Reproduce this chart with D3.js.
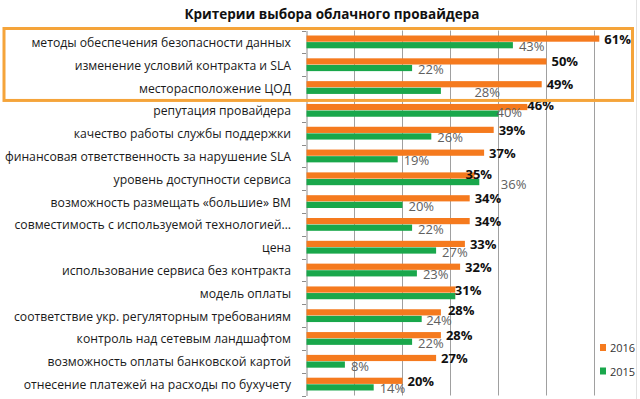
<!DOCTYPE html>
<html>
<head>
<meta charset="utf-8">
<script src="https://cdn.jsdelivr.net/npm/d3@7"></script>
<style>
  html, body { margin: 0; padding: 0; background: #fff; }
  svg { display: block; }
</style>
</head>
<body>
<svg id="chart" width="640" height="399"></svg>
<script>
const title = "Критерии выбора облачного провайдера";
const categories = [
  "методы обеспечения безопасности данных",
  "изменение условий контракта и SLA",
  "месторасположение ЦОД",
  "репутация провайдера",
  "качество работы службы поддержки",
  "финансовая ответственность за нарушение SLA",
  "уровень доступности сервиса",
  "возможность размещать «большие» ВМ",
  "совместимость с используемой технологией…",
  "цена",
  "использование сервиса без контракта",
  "модель оплаты",
  "соответствие укр. регуляторным требованиям",
  "контроль над сетевым ландшафтом",
  "возможность оплаты банковской картой",
  "отнесение платежей на расходы по бухучету"
];
const seriesNames = ["2016", "2015"];
const values2016 = [61, 50, 49, 46, 39, 37, 35, 34, 34, 33, 32, 31, 28, 28, 27, 20];
const values2015 = [43, 22, 28, 40, 26, 19, 36, 20, 22, 27, 23, 31, 24, 22, 8, 14];
const hiddenLabels2015 = ["модель оплаты"];
const highlighted = categories.slice(0, 3);
const gridTicks = [0, 10, 20, 30, 40, 50, 60];

// manual label nudges (as placed in the original), px: [dx, dy]
const labelNudge2016 = {
  "репутация провайдера": [-5, -2.5],
  "уровень доступности сервиса": [-14, -1],
  "модель оплаты": [-5.5, 0],
  "соответствие укр. регуляторным требованиям": [2, -2]
};
const labelNudge2015 = {
  "месторасположение ЦОД": [27.5, 0.5],
  "репутация провайдера": [-8, -2.5],
  "уровень доступности сервиса": [15.5, 0.5],
  "соответствие укр. регуляторным требованиям": [-1.5, 0.5]
};

const colors = { "2016": "#F57A1E", "2015": "#19A74B" };

const svg = d3.select("#chart");
const font = "'Open Sans', 'DejaVu Sans', sans-serif";

const x = d3.scaleLinear().domain([0, 70]).range([306, 642]);
const y = d3.scaleBand().domain(categories).range([30.5, 395.5]);
const sub = d3.scaleBand().domain(seriesNames).range([-6.4, 6.4]).paddingInner(0.06);

// right border of chart area
svg.append("line").attr("x1", 636.5).attr("x2", 636.5).attr("y1", 0).attr("y2", 399)
  .attr("stroke", "#e2e2e2").attr("stroke-width", 1);

// gridlines
svg.append("g").selectAll("line").data(gridTicks.slice(1)).join("line")
  .attr("x1", d => Math.round(x(d)) + 0.5).attr("x2", d => Math.round(x(d)) + 0.5)
  .attr("y1", y.range()[0]).attr("y2", y.range()[1])
  .attr("stroke", "#a0a0a0").attr("stroke-width", 1);

// y axis
const yAxis = d3.axisLeft(y).tickSize(0).tickFormat("");
const axisG = svg.append("g").attr("transform", `translate(${Math.round(x(0)) + 0.5},0)`).call(yAxis);
axisG.select(".domain").attr("stroke", "#8c8c8c");
// boundary ticks
const bounds = categories.map(c => y(c)).concat([y.range()[1]]);
svg.append("g").selectAll("line").data(bounds).join("line")
  .attr("x1", Math.round(x(0)) - 4).attr("x2", Math.round(x(0)))
  .attr("y1", d => Math.round(d) + 0.5).attr("y2", d => Math.round(d) + 0.5)
  .attr("stroke", "#8c8c8c");

// category labels
svg.append("g").selectAll("text").data(categories).join("text")
  .attr("x", 291).attr("y", d => y(d) + y.bandwidth() / 2 + 0.5)
  .attr("text-anchor", "end").attr("dominant-baseline", "central")
  .attr("font-family", font).attr("font-size", 12.2).attr("fill", "#1a1a1a")
  .text(d => d);

const rows = categories.map((c, i) => ({ c, v2016: values2016[i], v2015: values2015[i] }));

// bars
const bars = svg.append("g");
seriesNames.forEach(s => {
  bars.selectAll(null).data(rows).join("rect")
    .attr("x", x(0) + 0.5)
    .attr("y", d => y(d.c) + y.bandwidth() / 2 + sub(s))
    .attr("width", d => x(s === "2016" ? d.v2016 : d.v2015) - x(0))
    .attr("height", sub.bandwidth())
    .attr("fill", colors[s]);
});

const nd = (m, c, k) => (m[c] ? m[c][k] : 0);

// value labels 2016
svg.append("g").selectAll("text").data(rows).join("text")
  .attr("x", d => x(d.v2016) + 5.5 + nd(labelNudge2016, d.c, 0))
  .attr("y", d => y(d.c) + y.bandwidth() / 2 + sub("2016") + sub.bandwidth() / 2 + nd(labelNudge2016, d.c, 1))
  .attr("dominant-baseline", "central")
  .attr("font-family", font).attr("font-weight", 700).attr("font-size", 13).attr("fill", "#111")
  .text(d => d.v2016 + "%");

// value labels 2015
svg.append("g").selectAll("text").data(rows.filter(d => !hiddenLabels2015.includes(d.c))).join("text")
  .attr("x", d => x(d.v2015) + 6.5 + nd(labelNudge2015, d.c, 0))
  .attr("y", d => y(d.c) + y.bandwidth() / 2 + sub("2015") + sub.bandwidth() / 2 + 1 + nd(labelNudge2015, d.c, 1))
  .attr("dominant-baseline", "central")
  .attr("font-family", font).attr("font-weight", 400).attr("font-size", 13).attr("fill", "#606060")
  .text(d => d.v2015 + "%");

// title
svg.append("text").attr("x", 332).attr("y", 13.5)
  .attr("text-anchor", "middle").attr("dominant-baseline", "central")
  .attr("font-family", font).attr("font-weight", 700).attr("font-size", 13.5).attr("fill", "#111")
  .text(title);

// legend
const legend = svg.append("g");
seriesNames.forEach((s, i) => {
  const ly = 347.5 + i * 23.5;
  legend.append("rect").attr("x", 600).attr("y", ly - 3.5).attr("width", 6).attr("height", 7).attr("fill", colors[s]);
  legend.append("text").attr("x", 610).attr("y", ly).attr("dominant-baseline", "central")
    .attr("font-family", font).attr("font-size", 11).attr("fill", "#333").text(s);
});

// highlight frame around top criteria
const hTop = y(highlighted[0]) - 2;
const hBot = y(highlighted[highlighted.length - 1]) + y.bandwidth() + 1.5;
svg.append("rect").attr("x", 4).attr("y", hTop).attr("width", 628.5).attr("height", hBot - hTop)
  .attr("fill", "none").attr("stroke", "#F5A43A").attr("stroke-width", 3);
</script>
</body>
</html>
